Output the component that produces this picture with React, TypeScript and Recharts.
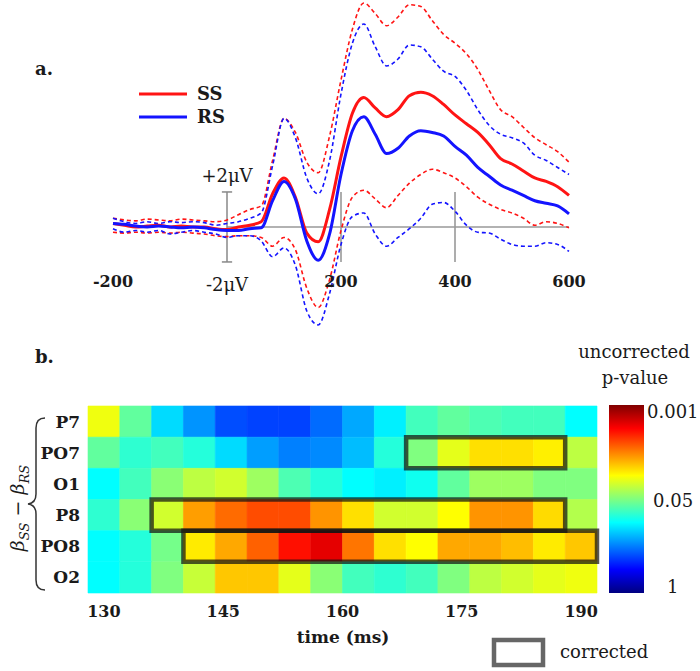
import { ComposedChart, Legend, Line, LineChart, ReferenceArea, ReferenceLine, XAxis, YAxis } from 'recharts'

const FONT = '"DejaVu Serif", serif'
const INK = '#1a1a1a'
const RED = '#ff1414'
const BLUE = '#1414ff'

// ---- panel a: ERP waveforms (µV), sampled every 20 ms
const times = [
  -200, -180, -160, -140, -120, -100, -80, -60, -40, -20, 0, 20, 40, 60, 80, 100, 120, 140, 160, 180, 200,
  220, 240, 260, 280, 300, 320, 340, 360, 380, 400, 420, 440, 460, 480, 500, 520, 540, 560, 580, 600,
]
const ssMean = [
  0.2, 0.1, 0.0, 0.05, 0.1, 0.0, 0.05, 0.0, 0.0, -0.1, -0.15, 0.0, 0.1, 0.3, 1.9, 2.8, 1.7, -0.35, -0.85, 1.0, 4.0,
  6.5, 7.4, 6.8, 6.3, 6.7, 7.5, 7.7, 7.5, 7.0, 6.4, 5.9, 5.4, 4.7, 3.9, 3.6, 3.2, 2.8, 2.6, 2.3, 1.8,
]
const rsMean = [
  0.2, 0.15, 0.05, 0.0, 0.05, 0.0, -0.05, 0.0, -0.05, -0.15, -0.2, -0.2, -0.1, -0.05, 1.5, 2.6, 1.6, -0.8, -1.9, -0.4, 3.0,
  5.5, 6.3, 5.3, 4.2, 4.5, 5.2, 5.5, 5.4, 5.2, 4.6, 4.1, 3.4, 2.9, 2.4, 2.1, 1.8, 1.5, 1.35, 1.2, 0.75,
]
const ssUpper = [
  0.5, 0.4, 0.35, 0.45, 0.4, 0.35, 0.45, 0.4, 0.35, 0.3, 0.4, 0.7, 1.0, 1.2, 3.8, 6.2, 5.4, 3.7, 3.1, 5.2, 8.4,
  11.3, 12.8, 12.2, 11.5, 12.0, 12.7, 12.6, 11.8, 11.0, 10.5, 9.9, 9.0, 7.8, 6.7, 6.3, 5.7, 5.1, 4.7, 4.3, 3.7,
]
const ssLower = [
  -0.3, -0.35, -0.3, -0.35, -0.3, -0.35, -0.3, -0.35, -0.4, -0.5, -0.55, -0.5, -0.5, -0.6, -1.1, -0.6, -1.3, -3.5, -4.6, -3.0, -0.2,
  1.7, 2.1, 1.6, 1.1, 1.8, 2.5, 3.0, 3.3, 3.1, 2.8, 2.3, 1.7, 1.3, 1.0, 0.8, 0.5, 0.1, 0.3, 0.2, -0.05,
]
const rsUpper = [
  0.5, 0.3, 0.2, 0.3, 0.2, 0.3, 0.25, 0.3, 0.25, 0.1, 0.2, 0.3, 0.5, 0.8, 3.5, 6.2, 5.1, 2.8, 1.9, 3.8, 7.6,
  10.5, 11.6, 10.3, 9.2, 9.6, 10.4, 10.3, 9.6, 8.9, 8.6, 7.8, 6.7, 5.8, 5.3, 5.1, 4.8, 4.1, 3.8, 3.4, 3.0,
]
const rsLower = [
  -0.1, -0.3, -0.2, -0.3, -0.2, -0.4, -0.3, -0.2, -0.3, -0.4, -0.6, -0.5, -0.5, -0.8, -1.7, -1.2, -2.2, -4.8, -5.6, -3.8, -1.0,
  0.6, 0.8, -0.4, -1.1, -0.6, -0.1, 0.5, 1.3, 1.4, 0.9, 0.1, -0.3, -0.35, -0.7, -1.0, -1.1, -1.1, -0.9, -1.0, -1.4,
]
const erpTickLabels = [-200, 200, 400, 600]
const erpTickMarks = [200, 400]
const legendOrder = ['SS', 'RS']

// ---- panel b: colour level per cell (0 = p of 1, 1 = p of 0.001)
const cellTimes = [130, 134, 138, 142, 146, 150, 154, 158, 162, 166, 170, 174, 178, 182, 186, 190]
const timeTicks = [130, 145, 160, 175, 190]
const electrodes = ['P7', 'PO7', 'O1', 'P8', 'PO8', 'O2']
const p7Level = [0.61, 0.47, 0.34, 0.27, 0.2, 0.19, 0.19, 0.23, 0.29, 0.36, 0.44, 0.47, 0.45, 0.44, 0.44, 0.375]
const po7Level = [0.47, 0.42, 0.44, 0.41, 0.34, 0.28, 0.25, 0.26, 0.31, 0.41, 0.5, 0.6, 0.655, 0.655, 0.64, 0.56]
const o1Level = [0.375, 0.44, 0.51, 0.56, 0.58, 0.53, 0.45, 0.41, 0.375, 0.36, 0.39, 0.47, 0.53, 0.53, 0.5, 0.5]
const p8Level = [0.42, 0.51, 0.58, 0.72, 0.77, 0.8, 0.8, 0.73, 0.655, 0.58, 0.58, 0.625, 0.73, 0.73, 0.66, 0.55]
const po8Level = [0.375, 0.41, 0.49, 0.645, 0.71, 0.78, 0.86, 0.9, 0.76, 0.655, 0.625, 0.71, 0.71, 0.69, 0.645, 0.68]
const o2Level = [0.375, 0.41, 0.5, 0.57, 0.68, 0.68, 0.6, 0.51, 0.44, 0.42, 0.44, 0.5, 0.56, 0.58, 0.6, 0.61]
// corrected clusters: electrode, first and last significant time bin
const correctedRows = ['PO7', 'P8', 'PO8']
const correctedFrom = [170, 138, 142]
const correctedTo = [186, 186, 190]

const levelsByRow: Record<string, number[]> = {
  P7: p7Level,
  PO7: po7Level,
  O1: o1Level,
  P8: p8Level,
  PO8: po8Level,
  O2: o2Level,
}

const jet = (v: number) => {
  const c = (x: number) => Math.round(255 * Math.max(0, Math.min(1, x)))
  return `rgb(${c(1.5 - Math.abs(4 * v - 3))},${c(1.5 - Math.abs(4 * v - 2))},${c(1.5 - Math.abs(4 * v - 1))})`
}

const erpData = times.map((t, i) => ({
  t,
  ss: ssMean[i],
  rs: rsMean[i],
  ssHi: ssUpper[i],
  ssLo: ssLower[i],
  rsHi: rsUpper[i],
  rsLo: rsLower[i],
}))

const heatData = cellTimes.map((time) => ({ time }))
const halfBin = (cellTimes[1] - cellTimes[0]) / 2

// row index counted from the bottom of the heat map
const rowBase = (name: string) => electrodes.length - 1 - electrodes.indexOf(name)

const tickStyle = { fill: INK, fontSize: 16, fontWeight: 'bold', fontFamily: FONT }

function ErpLegend(props: any) {
  const items = (props.payload || [])
    .filter((p: any) => legendOrder.includes(p.value))
    .sort((a: any, b: any) => legendOrder.indexOf(a.value) - legendOrder.indexOf(b.value))
  return (
    <div>
      {items.map((entry: any) => (
        <div key={entry.value} style={{ display: 'flex', alignItems: 'center', height: 23 }}>
          <svg width={48} height={8}>
            <line x1={0} y1={4} x2={48} y2={4} stroke={entry.color} strokeWidth={3} />
          </svg>
          <span style={{ marginLeft: 10, fontFamily: FONT, fontWeight: 'bold', fontSize: 18, color: INK }}>
            {entry.value}
          </span>
        </div>
      ))}
    </div>
  )
}

function ErpPanel() {
  const dashed = { strokeWidth: 1.6, strokeDasharray: '4 3', dot: false, legendType: 'none' as const }
  return (
    <LineChart width={700} height={340} data={erpData} margin={{ top: 0, right: 131, bottom: 0, left: 113 }}>
      <XAxis dataKey="t" type="number" domain={[-200, 600]} hide />
      <YAxis type="number" domain={[-6.46, 12.97]} allowDataOverflow hide />
      <ReferenceLine segment={[{ x: 0, y: 0 }, { x: 600, y: 0 }]} stroke="#999" strokeWidth={1.6} />
      {erpTickLabels.map((t) => (
        <ReferenceLine
          key={t}
          segment={[{ x: t, y: -2 }, { x: t, y: 2 }]}
          stroke={erpTickMarks.includes(t) ? '#999' : 'none'}
          strokeWidth={1.6}
          label={{ value: String(t), position: 'bottom', offset: 14, ...tickStyle }}
        />
      ))}
      <ReferenceLine segment={[{ x: 0, y: -2 }, { x: 0, y: 2 }]} stroke="#888" strokeWidth={1.5} />
      <ReferenceLine
        segment={[{ x: -9, y: 2 }, { x: 9, y: 2 }]}
        stroke="#888"
        strokeWidth={1.5}
        label={{ value: '+2μV', position: 'top', offset: 10, fill: INK, fontSize: 18, fontFamily: FONT }}
      />
      <ReferenceLine
        segment={[{ x: -9, y: -2 }, { x: 9, y: -2 }]}
        stroke="#888"
        strokeWidth={1.5}
        label={{ value: '-2μV', position: 'bottom', offset: 16, fill: INK, fontSize: 18, fontFamily: FONT }}
      />
      <Line type="monotone" dataKey="ssHi" stroke={RED} {...dashed} isAnimationActive={false} />
      <Line type="monotone" dataKey="ssLo" stroke={RED} {...dashed} isAnimationActive={false} />
      <Line type="monotone" dataKey="rsHi" stroke={BLUE} {...dashed} isAnimationActive={false} />
      <Line type="monotone" dataKey="rsLo" stroke={BLUE} {...dashed} isAnimationActive={false} />
      <Line type="monotone" dataKey="ss" name="SS" stroke={RED} strokeWidth={3} dot={false} legendType="plainline" isAnimationActive={false} />
      <Line type="monotone" dataKey="rs" name="RS" stroke={BLUE} strokeWidth={3} dot={false} legendType="plainline" isAnimationActive={false} />
      <Legend
        layout="vertical"
        align="center"
        verticalAlign="middle"
        content={<ErpLegend />}
        wrapperStyle={{ left: 139, top: 82, width: 'auto' }}
      />
    </LineChart>
  )
}

function HeatPanel() {
  return (
    <ComposedChart width={700} height={291} data={heatData} margin={{ top: 26, right: 103, bottom: 48, left: 28 }}>
      <XAxis
        dataKey="time"
        type="number"
        domain={[cellTimes[0] - halfBin, cellTimes[cellTimes.length - 1] + halfBin]}
        ticks={timeTicks}
        allowDataOverflow
        axisLine={false}
        tickLine={false}
        tickMargin={7}
        height={30}
        tick={tickStyle}
      />
      <YAxis
        type="number"
        domain={[0, electrodes.length]}
        allowDataOverflow
        ticks={[0.5, 1.5, 2.5, 3.5, 4.5, 5.5]}
        tickFormatter={(v: number) => electrodes[electrodes.length - 1 - Math.floor(v)]}
        width={60}
        axisLine={false}
        tickLine={false}
        tick={{ ...tickStyle, fontSize: 17 }}
      />
      {electrodes.flatMap((e) =>
        cellTimes.map((t, i) => (
          <ReferenceArea
            key={`${e}-${t}`}
            x1={t - halfBin}
            x2={t + halfBin}
            y1={rowBase(e)}
            y2={rowBase(e) + 1}
            fill={jet(levelsByRow[e][i])}
            fillOpacity={1}
            stroke={jet(levelsByRow[e][i])}
            strokeWidth={0.6}
            ifOverflow="visible"
          />
        )),
      )}
      {correctedRows.map((r, i) => (
        <ReferenceArea
          key={`box-${r}`}
          x1={correctedFrom[i] - halfBin}
          x2={correctedTo[i] + halfBin}
          y1={rowBase(r)}
          y2={rowBase(r) + 1}
          fill="none"
          fillOpacity={0}
          stroke="#141414"
          strokeOpacity={0.72}
          strokeWidth={4.5}
          ifOverflow="visible"
        />
      ))}
    </ComposedChart>
  )
}

export default function App() {
  const barStops = [0, 0.125, 0.375, 0.625, 0.875, 1]
  return (
    <div style={{ position: 'absolute', left: 0, top: 0, width: 700, height: 671, background: '#fff' }}>
      <div style={{ position: 'absolute', left: 0, top: 0 }}>
        <ErpPanel />
      </div>
      <div style={{ position: 'absolute', left: 0, top: 380 }}>
        <HeatPanel />
      </div>
      <svg
        width={700}
        height={671}
        style={{ position: 'absolute', left: 0, top: 0, pointerEvents: 'none' }}
        fontFamily={FONT}
        fill={INK}
      >
        <defs>
          <linearGradient id="jetBar" x1="0" y1="1" x2="0" y2="0">
            {barStops.map((s) => (
              <stop key={s} offset={s} stopColor={jet(s)} />
            ))}
          </linearGradient>
        </defs>
        <text x={35} y={75} fontSize={18} fontWeight="bold">a.</text>
        <text x={35} y={363} fontSize={18} fontWeight="bold">b.</text>

        <path
          d="M 45 418 Q 36 418 36 428 L 36 494 Q 36 503 28 504 Q 36 505 36 514 L 36 580 Q 36 590 45 590"
          fill="none"
          stroke="#333"
          strokeWidth={1.5}
        />
        <text transform="translate(24,508) rotate(-90)" textAnchor="middle" fontSize={19} fontStyle="italic">
          β<tspan fontSize={13} dy={5}>SS</tspan>
          <tspan dy={-5} fontStyle="normal"> − </tspan>β<tspan fontSize={13} dy={5}>RS</tspan>
        </text>

        <text x={343} y={643} textAnchor="middle" fontSize={17} fontWeight="bold">time (ms)</text>

        <text x={634} y={358} textAnchor="middle" fontSize={18}>uncorrected</text>
        <text x={635} y={384} textAnchor="middle" fontSize={18}>p-value</text>
        <rect x={609} y={405} width={35} height={188} fill="url(#jetBar)" />
        <text x={647} y={418} fontSize={18}>0.001</text>
        <text x={653} y={507} fontSize={18}>0.05</text>
        <text x={667} y={593} fontSize={18}>1</text>

        <rect x={494} y={640} width={49} height={25} fill="none" stroke="#666" strokeWidth={4.5} />
        <text x={560} y={658} fontSize={18}>corrected</text>
      </svg>
    </div>
  )
}
